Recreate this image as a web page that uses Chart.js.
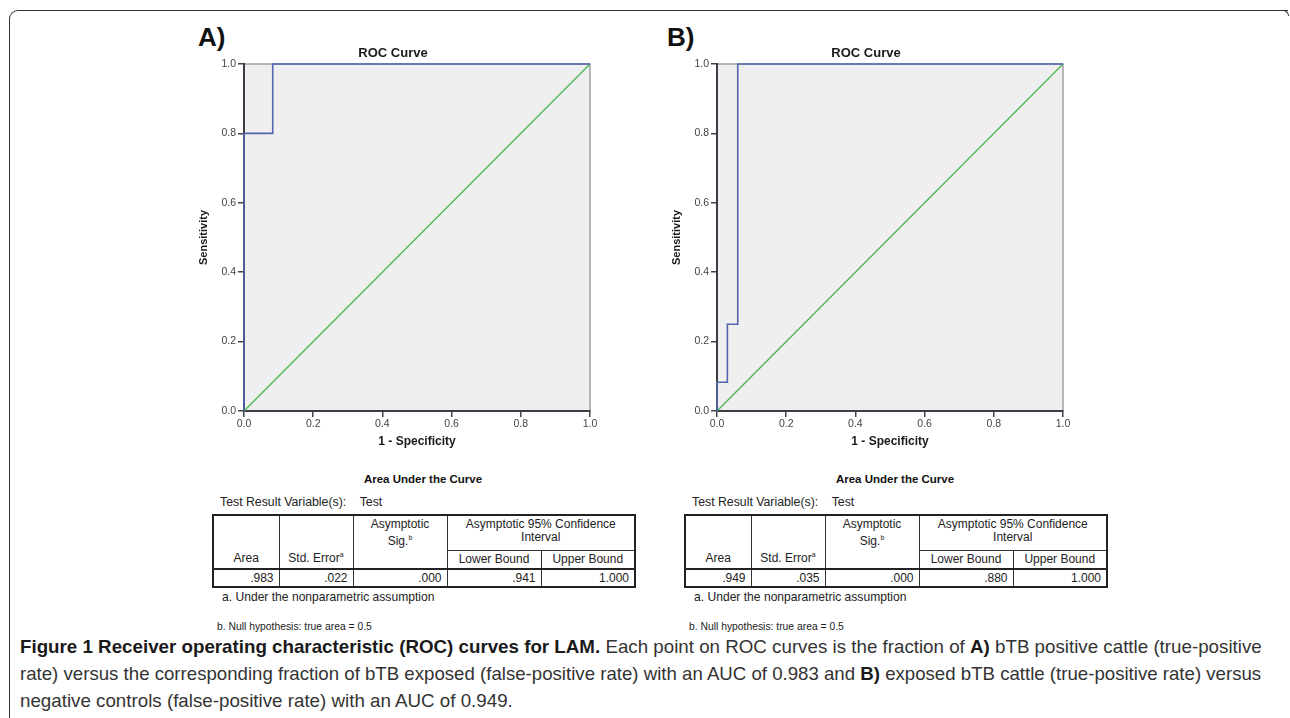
<!DOCTYPE html>
<html>
<head>
<meta charset="utf-8">
<script src="https://cdn.jsdelivr.net/npm/chart.js@4.4.1/dist/chart.umd.min.js"></script>
<style>
  html, body { margin:0; padding:0; background:#fff; }
  body { width:1290px; height:718px; position:relative; overflow:hidden; font-family:"Liberation Sans", Arial, sans-serif; }
  .frame { position:absolute; left:9px; top:10px; width:1278px; height:720px; border-top:1.5px solid #333; border-left:1.5px solid #333; border-top-left-radius:9px; }
  .hook { position:absolute; left:1278px; top:10px; width:10px; height:5px; border-top:1.5px solid #333; border-right:1.5px solid #333; border-top-right-radius:6px; }
  .letter { position:absolute; font-weight:bold; font-size:26px; color:#111; }
  canvas { position:absolute; }
  .tt { position:absolute; font-weight:bold; font-size:11.5px; color:#111; transform:translateX(-50%); white-space:nowrap; }
  .trv { position:absolute; font-size:12.3px; color:#222; white-space:nowrap; }
  table.auc { position:absolute; border-collapse:collapse; table-layout:fixed; font-size:12px; color:#222; border:2px solid #222; }
  table.auc td { border:1px solid #333; padding:0 4px; line-height:13px; white-space:nowrap; }
  .fa { position:absolute; font-size:12.1px; color:#222; white-space:nowrap; }
  .fb { position:absolute; font-size:11px; color:#222; white-space:nowrap; transform-origin:0 50%; }
  .cap { position:absolute; left:20px; white-space:nowrap; font-family:"Liberation Sans", Arial, sans-serif; font-size:19px; color:#333; transform-origin:0 50%; line-height:22px; }
  .cap b { color:#1a1a1a; }
</style>
</head>
<body>
<div class="frame"></div>
<div class="hook"></div>

<div class="letter" style="left:198px; top:22px;">A)</div>
<div class="letter" style="left:667px; top:22px;">B)</div>

<canvas id="rocA" width="404" height="431" style="left:196px; top:30px; width:404px; height:431px;"></canvas>
<canvas id="rocB" width="404" height="431" style="left:669px; top:30px; width:404px; height:431px;"></canvas>

<div id="tables"></div>

<div class="cap" id="cap1" style="top:636px;"><b>Figure 1 Receiver operating characteristic (ROC) curves for LAM.</b> Each point on ROC curves is the fraction of <b>A)</b> bTB positive cattle (true-positive</div>
<div class="cap" id="cap2" style="top:663px;">rate) versus the corresponding fraction of bTB exposed (false-positive rate) with an AUC of 0.983 and <b>B)</b> exposed bTB cattle (true-positive rate) versus</div>
<div class="cap" id="cap3" style="top:690px;">negative controls (false-positive rate) with an AUC of 0.949.</div>

<script>
// ---- Data ----
const fprA = [0, 0, 0.083, 0.083, 1];
const tprA = [0, 0.8, 0.8, 1, 1];
const fprB = [0, 0, 0.03, 0.03, 0.06, 0.06, 1];
const tprB = [0, 0.083, 0.083, 0.25, 0.25, 1, 1];
const refX = [0, 1];
const refY = [0, 1];
const axisTicks = [0, 0.2, 0.4, 0.6, 0.8, 1.0];

const aucHeaders = ["Area", "Std. Error", "Asymptotic Sig.", "Asymptotic 95% Confidence Interval", "Lower Bound", "Upper Bound"];
const aucA = [".983", ".022", ".000", ".941", "1.000"];
const aucB = [".949", ".035", ".000", ".880", "1.000"];
const footA = "a. Under the nonparametric assumption";
const footB = "b. Null hypothesis: true area = 0.5";

// ---- Charts ----
const plotBg = {
  id: 'plotBg',
  beforeDraw(chart) {
    const {ctx, chartArea: a} = chart;
    ctx.save();
    ctx.fillStyle = '#efefef';
    ctx.fillRect(a.left, a.top, a.right - a.left, a.bottom - a.top);
    ctx.strokeStyle = '#8a8a8a';
    ctx.lineWidth = 1.2;
    ctx.strokeRect(a.left, a.top, a.right - a.left, a.bottom - a.top);
    ctx.restore();
  }
};

function pts(xs, ys) { return xs.map((x, i) => ({x: x, y: ys[i]})); }

function makeRoc(id, fpr, tpr) {
  const tickFont = {family: '"Liberation Sans", Arial, sans-serif', size: 10.5};
  new Chart(document.getElementById(id), {
    type: 'scatter',
    data: {
      datasets: [
        { data: pts(refX, refY), showLine: true, borderColor: '#4fb857', borderWidth: 1.4, pointRadius: 0, clip: 4, order: 2 },
        { data: pts(fpr, tpr), showLine: true, borderColor: '#5465b0', borderWidth: 1.6, pointRadius: 0, clip: 4, order: 1 }
      ]
    },
    options: {
      responsive: false,
      animation: false,
      devicePixelRatio: 1,
      layout: { padding: { left: 0, right: 10, top: 0, bottom: 0 } },
      plugins: {
        legend: { display: false },
        tooltip: { enabled: false },
        title: { display: true, text: 'ROC Curve', color: '#1a1a1a',
                 font: { family: '"Liberation Sans", Arial, sans-serif', size: 13, weight: 'bold', lineHeight: 1.2 },
                 padding: { top: 16, bottom: 2.4 } }
      },
      scales: {
        x: {
          type: 'linear', min: 0, max: 1,
          afterBuildTicks(s) { s.ticks = axisTicks.map(v => ({value: v})); },
          afterFit(s) { s.height = 50; },
          ticks: { color: '#444', font: tickFont, padding: 1, callback: v => Number(v).toFixed(1) },
          grid: { drawOnChartArea: false, drawTicks: true, tickLength: 6, color: '#444', lineWidth: 1.5 },
          border: { color: '#3d3d48', width: 2 },
          title: { display: true, text: '1 - Specificity', color: '#1a1a1a',
                   font: { family: '"Liberation Sans", Arial, sans-serif', size: 12, weight: 'bold', lineHeight: 1.2 },
                   padding: { top: 0, bottom: 11.8 } }
        },
        y: {
          type: 'linear', min: 0, max: 1,
          afterBuildTicks(s) { s.ticks = axisTicks.map(v => ({value: v})); },
          afterFit(s) { s.width = 48; },
          ticks: { color: '#444', font: tickFont, padding: 2, callback: v => Number(v).toFixed(1) },
          grid: { drawOnChartArea: false, drawTicks: true, tickLength: 6, color: '#444', lineWidth: 1.5 },
          border: { color: '#3d3d48', width: 2 },
          title: { display: true, text: 'Sensitivity', color: '#1a1a1a',
                   font: { family: '"Liberation Sans", Arial, sans-serif', size: 11, weight: 'bold', lineHeight: 1.2 },
                   padding: { top: 1.4, bottom: 0 } }
        }
      }
    },
    plugins: [plotBg]
  });
}

makeRoc('rocA', fprA, tprA);
makeRoc('rocB', fprB, tprB);

// ---- Tables ----
function makeTable(left, vals) {
  const host = document.getElementById('tables');
  const center = left + 211;
  host.insertAdjacentHTML('beforeend',
    `<div class="tt" style="left:${center}px; top:473px;">Area Under the Curve</div>` +
    `<div class="trv" style="left:${left + 8}px; top:495px;">Test Result Variable(s):&nbsp;&nbsp;&nbsp; Test</div>` +
    `<table class="auc" style="left:${left}px; top:514px; width:422px;">
      <colgroup><col style="width:66px"><col style="width:74px"><col style="width:94px"><col style="width:94px"><col style="width:94px"></colgroup>
      <tr style="height:35px">
        <td rowspan="2" style="vertical-align:bottom; text-align:center; padding-bottom:3px;">${aucHeaders[0]}</td>
        <td rowspan="2" style="vertical-align:bottom; text-align:center; padding-bottom:3px;">${aucHeaders[1]}<sup style="font-size:7px">a</sup></td>
        <td rowspan="2" style="vertical-align:top; text-align:center; padding-top:2px;">${aucHeaders[2].replace(' ', '<br>')}<sup style="font-size:7px">b</sup></td>
        <td colspan="2" style="vertical-align:top; text-align:center; padding-top:2px;">Asymptotic 95% Confidence<br>Interval</td>
      </tr>
      <tr style="height:19px">
        <td style="text-align:center;">${aucHeaders[4]}</td>
        <td style="text-align:center;">${aucHeaders[5]}</td>
      </tr>
      <tr style="height:18px; border-top:2.5px solid #222;">
        ${vals.map(v => `<td style="text-align:right; padding-right:5px;">${v}</td>`).join('')}
      </tr>
    </table>` +
    `<div class="fa" style="left:${left + 10}px; top:590px;">${footA}</div>` +
    `<div class="fb" style="left:${left + 5}px; top:620px;">${footB}</div>`);
}
makeTable(212, aucA);
makeTable(684, aucB);

// ---- Caption fitting ----
function fitCaption() {
  const c1 = document.getElementById('cap1'), c2 = document.getElementById('cap2'), c3 = document.getElementById('cap3');
  const s1 = 1242 / c1.scrollWidth;
  const s2 = 1241 / c2.scrollWidth;
  c1.style.transform = `scaleX(${s1})`;
  c2.style.transform = `scaleX(${s2})`;
  c3.style.transform = `scaleX(${s1})`;
  document.querySelectorAll('.fb').forEach(el => { el.style.transform = `scaleX(${155 / el.scrollWidth})`; });
}
if (document.fonts && document.fonts.ready) { document.fonts.ready.then(fitCaption); } else { fitCaption(); }
fitCaption();
</script>
</body>
</html>
